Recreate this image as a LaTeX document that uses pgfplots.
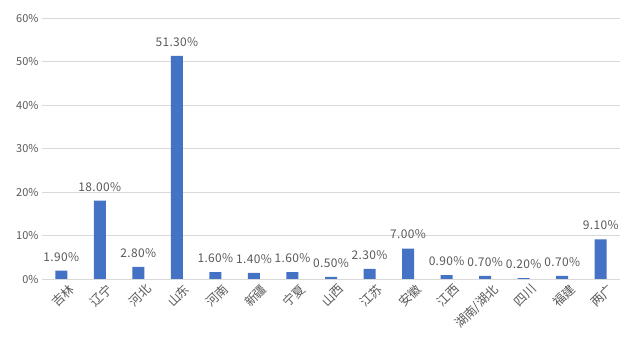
\documentclass[border=0pt]{standalone}
\usepackage{pgfplots}
\pgfplotsset{compat=1.18}
\usepackage{fontspec}
\setmainfont{Noto Sans CJK SC}
\newfontfamily\valfont[LetterSpace=3]{Noto Sans CJK SC}
\definecolor{barblue}{HTML}{4472C4}
\definecolor{gridgray}{HTML}{D9D9D9}
\definecolor{txtgray}{HTML}{595959}
\begin{document}
\begin{tikzpicture}[x=1bp,y=1bp]
\path[use as bounding box] (-42bp,-73bp) rectangle (583bp,279bp);
\begin{axis}[
  at={(0,0)}, anchor=south west,
  scale only axis, width=578bp, height=261bp,
  xmin=-0.5, xmax=14.5, ymin=0, ymax=60,
  ytick={0,10,20,30,40,50,60},
  yticklabel={\pgfmathprintnumber{\tick}\%},
  /pgf/number format/assume math mode=true,
  xtick=data,
  xticklabels={吉林,辽宁,河北,山东,河南,新疆,宁夏,山西,江苏,安徽,江西,湖南/湖北,四川,福建,两广},
  x tick label style={rotate=45, anchor=north east, font=\fontsize{12.5}{13}\selectfont, text=txtgray, inner sep=1pt, yshift=-6pt, xshift=3pt},
  y tick label style={font=\fontsize{11}{12}\selectfont, text=txtgray},
  ymajorgrids, grid style={gridgray, line width=0.8pt},
  axis line style={draw=none},
  axis x line*=bottom,
  major tick length=0pt,
  ybar, bar width=12bp,
  clip=false,
  nodes near coords={\pgfmathprintnumber[fixed,fixed zerofill,precision=2]{\pgfplotspointmeta}\%},
  nodes near coords style={font=\valfont\fontsize{12}{13}\selectfont, text=txtgray, anchor=south, yshift=6pt},
]
\addplot[fill=barblue, draw=none] coordinates {
(0,1.9) (1,18.0) (2,2.8) (3,51.3) (4,1.6) (5,1.4) (6,1.6) (7,0.5) (8,2.3) (9,7.0) (10,0.9) (11,0.7) (12,0.2) (13,0.7) (14,9.1)};
\draw[gridgray, line width=0.8pt] (axis cs:-0.5,0) -- (axis cs:14.5,0);
\end{axis}
\end{tikzpicture}
\end{document}
